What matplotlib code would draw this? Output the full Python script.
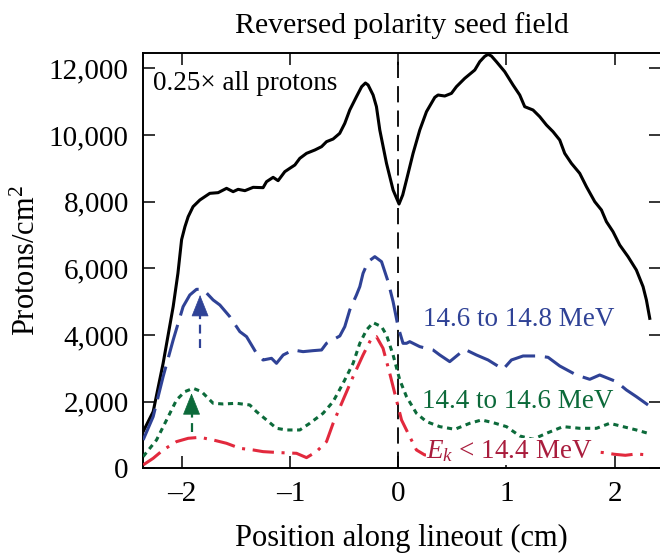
import matplotlib
matplotlib.use("Agg")
import matplotlib.pyplot as plt
from matplotlib.ticker import FuncFormatter

plt.rcParams["font.family"] = ["Liberation Serif", "DejaVu Serif"]
plt.rcParams["mathtext.fontset"] = "custom"
plt.rcParams["mathtext.rm"] = "Liberation Serif"
plt.rcParams["mathtext.it"] = "Liberation Serif:italic"

# all protons (x0.25)
x_all = [-2.362, -2.269, -2.177, -2.084, -2.040, -2.006, -1.975, -1.945, -1.900, -1.837,
         -1.745, -1.668, -1.590, -1.529, -1.483, -1.420, -1.344, -1.252, -1.220, -1.159,
         -1.113, -1.051, -1.005, -0.958, -0.912, -0.850, -0.773, -0.711, -0.665, -0.604,
         -0.543, -0.496, -0.450, -0.388, -0.340, -0.305, -0.280, -0.234, -0.203, -0.172,
         -0.110, -0.049, 0.006, 0.040, 0.075, 0.136, 0.198, 0.260, 0.337, 0.367,
         0.429, 0.491, 0.537, 0.614, 0.707, 0.753, 0.799, 0.830, 0.861, 0.907,
         0.984, 1.061, 1.123, 1.169, 1.246, 1.308, 1.370, 1.431, 1.493, 1.539,
         1.601, 1.678, 1.740, 1.817, 1.879, 1.925, 1.986, 2.048, 2.125, 2.202,
         2.264, 2.295, 2.326]
y_all = [1100, 1700, 3150, 4850, 5850, 6860, 7250, 7550, 7850, 8050,
         8250, 8270, 8400, 8300, 8370, 8330, 8430, 8420, 8600, 8730,
         8630, 8900, 9000, 9100, 9300, 9450, 9550, 9650, 9800, 9880,
         10050, 10350, 10750, 11150, 11450, 11560, 11500, 11200, 10850, 10150,
         9150, 8350, 7930, 8200, 8650, 9450, 10150, 10700, 11130, 11200,
         11170, 11250, 11450, 11700, 11950, 12200, 12360, 12420, 12370, 12200,
         11900, 11500, 11200, 10850, 10750, 10550, 10300, 10100, 9850, 9450,
         9150, 8850, 8450, 8000, 7750, 7400, 7100, 6700, 6350, 5950,
         5450, 5050, 4500]

# 14.6 to 14.8 MeV
x_hi = [-2.362, -2.269, -2.177, -2.084, -1.992, -1.930, -1.868, -1.807, -1.714, -1.652,
        -1.560, -1.467, -1.405, -1.313, -1.252, -1.174, -1.128, -1.066, -0.974, -0.882,
        -0.789, -0.711, -0.665, -0.542, -0.496, -0.450, -0.388, -0.357, -0.327, -0.280,
        -0.218, -0.156, -0.095, -0.049, -0.003, 0.043, 0.075, 0.105, 0.198, 0.321,
        0.383, 0.475, 0.614, 0.722, 0.830, 0.969, 1.046, 1.154, 1.293, 1.385,
        1.493, 1.647, 1.771, 1.863, 2.017, 2.110, 2.202, 2.310]
y_hi = [850, 1550, 2750, 3850, 4850, 5200, 5370, 5370, 5050, 4900,
        4550, 4100, 3950, 3450, 3250, 3300, 3150, 3400, 3550, 3500,
        3530, 3550, 3750, 3970, 4250, 4750, 5200, 5450, 5850, 6200,
        6350, 6200, 5600, 5000, 4250, 3750, 3750, 3800, 3650, 3550,
        3400, 3200, 3570, 3400, 3250, 2970, 3250, 3370, 3370, 3330,
        3070, 2800, 2670, 2800, 2600, 2350, 2150, 1900]

# 14.4 to 14.6 MeV
x_mid = [-2.362, -2.238, -2.145, -2.053, -1.976, -1.899, -1.821, -1.714, -1.621, -1.498,
         -1.375, -1.313, -1.220, -1.128, -1.035, -0.912, -0.820, -0.697, -0.604, -0.512,
         -0.419, -0.357, -0.295, -0.234, -0.156, -0.110, -0.049, 0.013, 0.075, 0.167,
         0.260, 0.383, 0.522, 0.660, 0.769, 0.876, 1.000, 1.123, 1.246, 1.370,
         1.524, 1.678, 1.833, 1.956, 2.079, 2.202, 2.310]
y_mid = [350, 850, 1450, 2050, 2300, 2400, 2300, 1950, 1930, 1950,
         1900, 1700, 1450, 1200, 1150, 1150, 1350, 1650, 2000, 2550,
         3150, 3750, 4150, 4370, 4250, 4000, 3400, 2650, 2150, 1650,
         1400, 1250, 1170, 1350, 1450, 1370, 1250, 970, 870, 1050,
         1250, 1200, 1200, 1350, 1250, 1150, 1050]

# E_k < 14.4 MeV
x_lo = [-2.362, -2.269, -2.177, -2.053, -1.945, -1.837, -1.714, -1.590, -1.467, -1.344,
        -1.252, -1.097, -0.943, -0.850, -0.758, -0.665, -0.604, -0.512, -0.419, -0.327,
        -0.249, -0.203, -0.142, -0.080, -0.018, 0.029, 0.105, 0.167, 0.244, 0.400,
        0.600, 0.800, 1.000, 1.200, 1.400, 1.600, 1.800, 1.900, 2.000, 2.100,
        2.200, 2.310]
y_lo = [100, 300, 550, 800, 900, 930, 850, 750, 600, 550,
        500, 470, 450, 320, 500, 800, 1350, 2050, 2750, 3400,
        3900, 3950, 3600, 2850, 2050, 1450, 950, 550, 400, 400,
        470, 450, 380, 400, 460, 480, 500, 470, 420, 390,
        430, 400]

xticks = [-2, -1, 0, 1, 2]
yticks = [0, 2000, 4000, 6000, 8000, 10000, 12000]

c_blue = "#2f4296"
c_green = "#0c6a3a"
c_red = "#e2293d"
c_redtxt = "#a91d3d"

fig = plt.figure(figsize=(6.6, 5.54), dpi=100)
ax = fig.add_axes([0.2162, 0.1547, 0.7853, 0.7502])

ax.axvline(0, color="k", lw=1.3, linestyle=(0, (9, 4.5)), zorder=1)

ax.plot(x_all, y_all, color="k", lw=2.2, zorder=3)
ax.plot(x_hi, y_hi, color=c_blue, lw=2.2, linestyle=(0, (11, 3.2)), zorder=3)
ax.plot(x_mid, y_mid, color=c_green, lw=2.2, linestyle=(0, (1.7, 1.5)), zorder=3)
ax.plot(x_lo, y_lo, color=c_red, lw=2.2, linestyle=(0, (7, 2.5, 1, 2.5)), zorder=3)

# arrows with dashed shafts
for xa, y0, yb, yt, col in [(-1.835, 3600, 4600, 5200, c_blue), (-1.914, 1100, 1650, 2250, c_green)]:
    ax.plot([xa, xa], [y0, yb], color=col, lw=1.6, linestyle=(0, (4, 2.5)), zorder=4)
    ax.annotate("", xy=(xa, yt), xytext=(xa, yb),
                arrowprops=dict(arrowstyle="-|>,head_length=0.9,head_width=0.36",
                                mutation_scale=16, color=col, lw=0.5,
                                shrinkA=0, shrinkB=0), zorder=4)

ax.text(-2.27, 11550, "0.25\u00d7 all protons", fontsize=19.5, ha="left", va="center", zorder=5)
ax.text(0.225, 4450, "14.6 to 14.8 MeV", fontsize=19.5, color=c_blue, ha="left", va="center", zorder=5)
ax.text(0.215, 2000, "14.4 to 14.6 MeV", fontsize=19.5, color=c_green, ha="left", va="center", zorder=5)
ax.text(0.26, 500, "$E_k$ < 14.4 MeV", fontsize=19.5, color=c_redtxt, ha="left", va="center", zorder=5,
        bbox=dict(facecolor="white", edgecolor="none", pad=0.5))

ax.set_xlim(-2.366, 2.43)
ax.set_ylim(0, 12470)
ax.set_xticks(xticks)
ax.set_yticks(yticks)
ax.xaxis.set_major_formatter(FuncFormatter(lambda v, p: "\u2013%d" % abs(v) if v < 0 else "%d" % v))
ax.yaxis.set_major_formatter(FuncFormatter(lambda v, p: "{:,.0f}".format(v)))
ax.tick_params(direction="in", length=8.5, width=1.1, top=True, right=True, labelsize=21)
ax.tick_params(axis="x", pad=9)
ax.tick_params(axis="y", pad=10)
for s in ax.spines.values():
    s.set_linewidth(1.4)

ax.set_title("Reversed polarity seed field", fontsize=21.5, pad=14)
ax.set_xlabel("Position along lineout (cm)", fontsize=22, labelpad=12)
ax.set_ylabel("Protons/cm$^2$", fontsize=22)
ax.yaxis.set_label_coords(-0.195, 0.5)

fig.savefig("out.png", dpi=100)
